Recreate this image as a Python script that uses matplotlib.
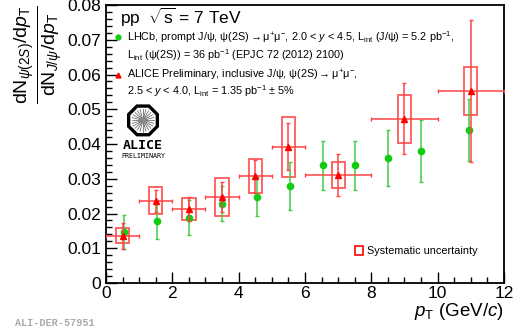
import numpy as np
import matplotlib
matplotlib.use('Agg')
import matplotlib.pyplot as plt
from matplotlib.patches import Rectangle, Polygon

plt.rcParams['font.family'] = ['Liberation Sans', 'DejaVu Sans']
plt.rcParams['mathtext.fontset'] = 'custom'
plt.rcParams['mathtext.rm'] = 'Liberation Sans'
plt.rcParams['mathtext.it'] = 'Liberation Sans:italic'
plt.rcParams['mathtext.bf'] = 'Liberation Sans:bold'

# ---- data ----
# ALICE preliminary, psi(2S)/J/psi ratio
alice_pt = [0.5, 1.5, 2.5, 3.5, 4.5, 5.5, 7.0, 9.0, 11.0]
alice_pt_err = [0.5, 0.5, 0.5, 0.5, 0.5, 0.5, 1.0, 1.0, 1.0]
alice_ratio = [0.0136, 0.0237, 0.0213, 0.0248, 0.0307, 0.0392, 0.0311, 0.0473, 0.0552]
alice_stat = [0.0038, 0.0032, 0.0034, 0.0043, 0.0047, 0.0068, 0.0061, 0.0103, 0.0205]
alice_syst = [0.0022, 0.0038, 0.0033, 0.0054, 0.0049, 0.0087, 0.0038, 0.0069, 0.0069]

# LHCb, EPJC 72 (2012) 2100
lhcb_pt = [0.55, 1.55, 2.5, 3.5, 4.55, 5.55, 6.55, 7.5, 8.5, 9.5, 10.95]
lhcb_ratio = [0.0147, 0.0178, 0.0188, 0.0228, 0.0248, 0.0279, 0.0339, 0.0339, 0.0359, 0.0380, 0.0440]
lhcb_err = [0.0050, 0.0050, 0.0050, 0.0050, 0.0056, 0.0070, 0.0071, 0.0071, 0.0081, 0.0090, 0.0090]

RED = '#ff0000'
GREEN = '#11cc11'

fig = plt.figure(figsize=(5.15, 3.36), dpi=100)
ax = fig.add_axes([0.2058, 0.1577, 0.7728, 0.8273])

# systematic boxes
box_hw = 0.2
for x, y, s in zip(alice_pt, alice_ratio, alice_syst):
    ax.add_patch(Rectangle((x - box_hw, y - s), 2 * box_hw, 2 * s, fill=False,
                           edgecolor=RED, linewidth=1.3, alpha=0.65, zorder=2))

# LHCb points
ax.errorbar(lhcb_pt, lhcb_ratio, yerr=lhcb_err, fmt='o', color=GREEN, ms=4.5,
            ecolor='#44cc44', elinewidth=1.1, capsize=1.5, capthick=1.0, zorder=3)

# ALICE points
ax.errorbar(alice_pt, alice_ratio, xerr=alice_pt_err, yerr=alice_stat, fmt='^', color=RED,
            ms=4.5, ecolor='#ff4444', elinewidth=1.1, capsize=1.5, capthick=1.0, zorder=4)

ax.set_xlim(0, 12)
ax.set_ylim(0, 0.08)
ax.set_xticks(np.arange(0, 13, 2))
ax.set_xticks(np.arange(0, 12.01, 0.5), minor=True)
ax.set_yticks(np.arange(0, 0.0801, 0.01))
ax.set_yticks(np.arange(0, 0.0801, 0.002), minor=True)
ax.set_yticklabels(['0'] + ['%.2f' % v for v in np.arange(0.01, 0.0801, 0.01)])
ax.tick_params(which='both', direction='in', top=False, right=False, labelsize=12.5, width=1.0)
ax.tick_params(which='major', length=8)
ax.tick_params(which='minor', length=4)
ax.tick_params(axis='x', pad=2)
for sp in ax.spines.values():
    sp.set_linewidth(1.3)

ax.set_xlabel(r'$p_{\rm T}$ (GeV/$c$)', fontsize=13.5, ha='right', x=1.0, labelpad=0)
ax.set_ylabel(r'$\frac{\mathrm{dN}_{\psi(2S)}/\mathrm{d}p_{\rm T}}{\mathrm{dN}_{J/\psi}/\mathrm{d}p_{\rm T}}$',
              fontsize=20, loc='top', labelpad=2)

# legend block
fs = 7.8
arrow = r'$\rightarrow$'
ax.text(0.035, 0.955, r'pp  $\sqrt{\rm s}$ = 7 TeV', transform=ax.transAxes, fontsize=12.5, va='center')
ax.plot([0.03], [0.885], 'o', color=GREEN, ms=3.5, transform=ax.transAxes, clip_on=False)
ax.text(0.053, 0.885, 'LHCb, prompt J/ψ, ψ(2S)' + arrow +
        r'μ$^{+}$μ$^{-}$, 2.0 < $y$ < 4.5, L$_{\rm int}$ (J/ψ) = 5.2 pb$^{-1}$,',
        transform=ax.transAxes, fontsize=fs, va='center')
ax.text(0.053, 0.82, r'L$_{\rm int}$ (ψ(2S)) = 36 pb$^{-1}$ (EPJC 72 (2012) 2100)',
        transform=ax.transAxes, fontsize=fs, va='center')
ax.plot([0.03], [0.748], '^', color=RED, ms=3.5, transform=ax.transAxes, clip_on=False)
ax.text(0.053, 0.748, 'ALICE Preliminary, inclusive J/ψ, ψ(2S)' + arrow + r'μ$^{+}$μ$^{-}$,',
        transform=ax.transAxes, fontsize=fs, va='center')
ax.text(0.053, 0.69, r'2.5 < $y$ < 4.0, L$_{\rm int}$ = 1.35 pb$^{-1}$ ± 5%',
        transform=ax.transAxes, fontsize=fs, va='center')

# systematic legend
ax.add_patch(Rectangle((0.625, 0.1), 0.022, 0.032, fill=False, edgecolor=RED, lw=1.2,
                       transform=ax.transAxes))
ax.text(0.655, 0.116, 'Systematic uncertainty', transform=ax.transAxes, fontsize=fs, va='center')

# ALICE logo
cx, cy, r = 0.093, 0.585, 0.039
aspect = (0.7728 * 5.15) / (0.8273 * 3.36)
ang = np.deg2rad(22.5 + 45 * np.arange(8))
oct_pts = np.column_stack([cx + r * np.cos(ang), cy + r * aspect * np.sin(ang)])
ax.add_patch(Polygon(oct_pts, closed=True, fill=False, edgecolor='black', lw=2.4,
                     transform=ax.transAxes))
for a in np.linspace(0, 2 * np.pi, 24, endpoint=False):
    ax.plot([cx + 0.006 * np.cos(a), cx + 0.028 * np.cos(a)],
            [cy + 0.006 * aspect * np.sin(a), cy + 0.028 * aspect * np.sin(a)],
            color='#555555', lw=0.5, transform=ax.transAxes)
ax.plot([cx], [cy], 'o', color='#888888', ms=3, transform=ax.transAxes)
ax.text(cx, 0.495, 'ALICE', transform=ax.transAxes, fontsize=9.5, ha='center', va='center',
        family='DejaVu Sans Mono', fontweight='bold')
ax.text(cx, 0.458, 'PRELIMINARY', transform=ax.transAxes, fontsize=4.8, ha='center', va='center',
        family='DejaVu Sans Mono')

fig.text(0.03, 0.038, 'ALI-DER-57951', fontsize=7.3, color='#aaaaaa', family='Liberation Mono',
         fontweight='bold', va='center')

fig.savefig('out.png', dpi=100)
